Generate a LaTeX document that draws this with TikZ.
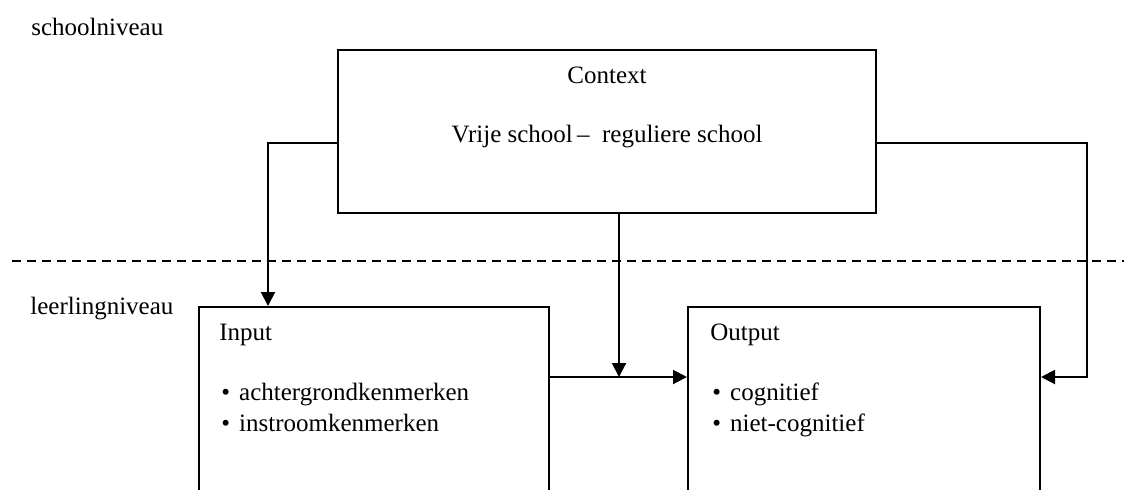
\documentclass[tikz,border=0pt]{standalone}
\usepackage{fontspec}
\setmainfont{Liberation Serif}
\usetikzlibrary{arrows.meta}
\begin{document}
\begin{tikzpicture}[x=0.5pt,y=-0.5pt,
  box/.style={draw,line width=1pt,rectangle,inner sep=0pt},
  conn/.style={line width=1pt,-{Triangle[length=7pt,width=7pt]}},
  lbl/.style={font=\fontsize{12.5}{15}\selectfont,inner sep=0pt},
  sepline/.style={line width=1pt,dash pattern=on 4.5pt off 3pt}]
\useasboundingbox (0,0) rectangle (1124,489);
\clip (0,0) rectangle (1124,489);
% level labels
\node[lbl,anchor=base west] (school) at (31,35) {schoolniveau};
\node[lbl,anchor=base west] (leerling) at (30,314) {leerlingniveau};
% separator
\coordinate (dl) at (12,261);
\coordinate (dr) at (1124,261);
\draw[sepline] (dl) -- (dr);
% boxes
\node[box,minimum width=269pt,minimum height=81.5pt] (ctx) at (607,131.5) {};
\node[box,minimum width=175pt,minimum height=116.5pt] (inp) at (374,423.5) {};
\node[box,minimum width=176pt,minimum height=116.5pt] (out) at (864,423.5) {};
% box texts
\node[lbl,anchor=base] (ctxt) at (607,83) {Context};
\node[lbl,anchor=base] (ctxs) at (607,142) {Vrije school\,--\ \ reguliere school};
\node[lbl,anchor=base west] (inpt) at (219,340) {Input};
\node[lbl,anchor=base west] (inpa) at (221,400) {\textbullet\hspace{4.5pt}achtergrondkenmerken};
\node[lbl,anchor=base west] (inpb) at (221,431) {\textbullet\hspace{4.5pt}instroomkenmerken};
\node[lbl,anchor=base west] (outt) at (710,340) {Output};
\node[lbl,anchor=base west] (outa) at (712,400) {\textbullet\hspace{4.5pt}cognitief};
\node[lbl,anchor=base west] (outb) at (712,431) {\textbullet\hspace{4.5pt}niet-cognitief};
% connector helpers
\coordinate (yA) at (0,143);
\coordinate (yB) at (0,377);
\coordinate (xL) at (268,0);
\coordinate (xM) at (619,0);
\coordinate (xR) at (1087,0);
% connectors
\draw[conn] (ctx.west |- yA) -| (inp.north -| xL);
\draw[conn] (ctx.east |- yA) -| (xR |- yB) -- (out.east |- yB);
\draw[conn] (inp.east |- yB) -- (out.west |- yB);
\draw[conn] (ctx.south -| xM) -- (xM |- yB);
\end{tikzpicture}
\end{document}
